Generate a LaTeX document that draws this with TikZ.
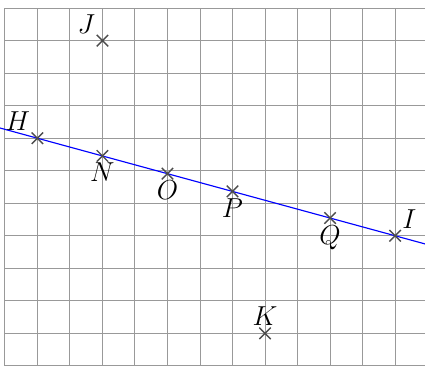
\documentclass[tikz,border=0pt]{standalone}
\usetikzlibrary{calc, shapes.misc}
\begin{document}
\begin{tikzpicture}[x=0.5cm, y=0.5cm,
  pnt/.style={cross out, draw=black!70, line width=0.6pt, minimum size=4.4pt, inner sep=0pt},
  lbl/.style={font=\large, inner sep=3pt}]
  \clip (-0.15,-0.06) rectangle (12.92,11.25);
  % grid
  \draw[gray!80, line width=0.4pt, step=0.5cm] (0,0) grid (13,11);
  % points
  \coordinate (H) at (1,7); \coordinate (I) at (12,4);
  \coordinate (J) at (3,10); \coordinate (K) at (8,1);
  \coordinate (N) at ($(H)!2/11!(I)$); \coordinate (O) at ($(H)!4/11!(I)$);
  \coordinate (P) at ($(H)!6/11!(I)$); \coordinate (Q) at ($(H)!9/11!(I)$);
  % line (HI)
  \coordinate (h0) at ($(H)!-0.12!(I)$); \coordinate (i0) at ($(I)!-0.1!(H)$);
  \draw[blue, line width=0.5pt] (h0) -- (i0);
  % crosses and labels
  \foreach \p/\pos in {H/above left, I/above right, J/above left, K/above,
                       N/below, O/below, P/below, Q/below}{
    \node[pnt] at (\p) {};
    \node[lbl, \pos] at (\p) {$\p$};
  }
\end{tikzpicture}
\end{document}
